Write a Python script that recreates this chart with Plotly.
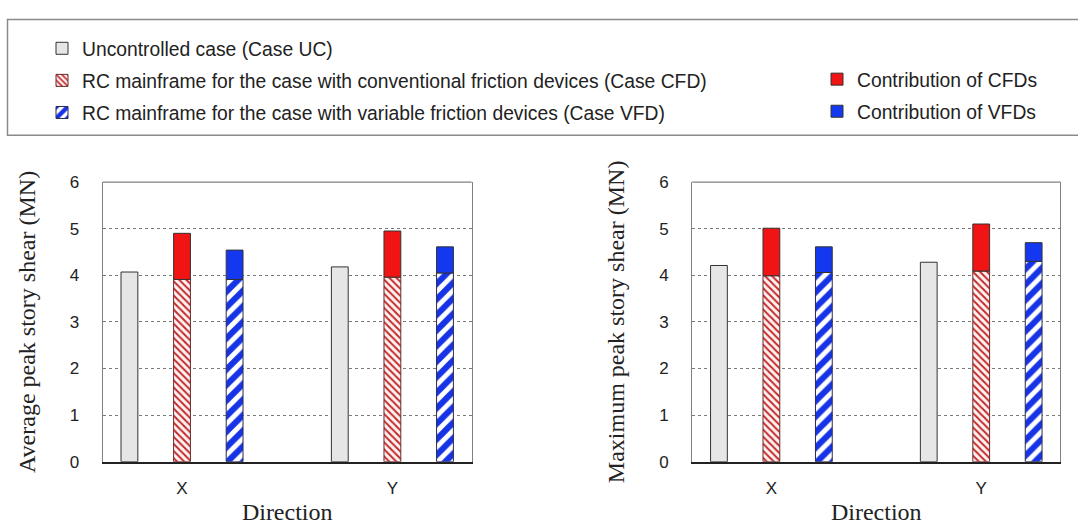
import plotly.graph_objects as go

directions = ["X", "Y"]
# Average peak story shear (MN)
avg_uc = [4.07, 4.18]
avg_cfd_frame = [3.91, 3.96]
avg_cfd_total = [4.90, 4.95]
avg_vfd_frame = [3.91, 4.05]
avg_vfd_total = [4.54, 4.61]
# Maximum peak story shear (MN)
max_uc = [4.21, 4.28]
max_cfd_frame = [3.99, 4.09]
max_cfd_total = [5.01, 5.10]
max_vfd_frame = [4.06, 4.30]
max_vfd_total = [4.61, 4.70]

y_ticks = [0, 1, 2, 3, 4, 5, 6]

names = {
    "uc": "Uncontrolled case (Case UC)",
    "cfd": "RC mainframe for the case with conventional friction devices (Case CFD)",
    "vfd": "RC mainframe for the case with variable friction devices (Case VFD)",
    "cfdc": "Contribution of CFDs",
    "vfdc": "Contribution of VFDs",
}

W = 0.08
OFF_UC = -0.25 - W / 2
OFF_CFD = -W / 2
OFF_VFD = 0.25 - W / 2
LINE = dict(color="#333333", width=1)

fig = go.Figure()


def add_panel(uc, cfd_f, cfd_t, vfd_f, vfd_t, xa, ya, show):
    fig.add_trace(go.Bar(
        x=directions, y=uc, width=W, offset=OFF_UC, name=names["uc"],
        marker=dict(color="#e6e6e6", line=LINE), legendgroup="uc",
        showlegend=show, legend="legend", xaxis=xa, yaxis=ya))
    fig.add_trace(go.Bar(
        x=directions, y=cfd_f, width=W, offset=OFF_CFD, name=names["cfd"],
        marker=dict(color="#fdf2f2", line=dict(color="#6a2a2a", width=1),
                    pattern=dict(shape="\\", fgcolor="#c42a2a", bgcolor="#fdf2f2",
                                 fgopacity=1, size=5, solidity=0.4)),
        legendgroup="cfd", showlegend=show, legend="legend", xaxis=xa, yaxis=ya))
    fig.add_trace(go.Bar(
        x=directions, y=vfd_f, width=W, offset=OFF_VFD, name=names["vfd"],
        marker=dict(color="#ffffff", line=dict(color="#2a2a44", width=1),
                    pattern=dict(shape="/", fgcolor="#1634e6", bgcolor="#ffffff",
                                 fgopacity=1, size=11, solidity=0.55)),
        legendgroup="vfd", showlegend=show, legend="legend", xaxis=xa, yaxis=ya))
    fig.add_trace(go.Bar(
        x=directions, y=[t - f for t, f in zip(cfd_t, cfd_f)], base=cfd_f,
        width=W, offset=OFF_CFD, name=names["cfdc"],
        marker=dict(color="#f01414", line=LINE), legendgroup="cfdc",
        showlegend=show, legend="legend2", xaxis=xa, yaxis=ya))
    fig.add_trace(go.Bar(
        x=directions, y=[t - f for t, f in zip(vfd_t, vfd_f)], base=vfd_f,
        width=W, offset=OFF_VFD, name=names["vfdc"],
        marker=dict(color="#1438f0", line=LINE), legendgroup="vfdc",
        showlegend=show, legend="legend2", xaxis=xa, yaxis=ya))


add_panel(avg_uc, avg_cfd_frame, avg_cfd_total, avg_vfd_frame, avg_vfd_total, "x", "y", True)
add_panel(max_uc, max_cfd_frame, max_cfd_total, max_vfd_frame, max_vfd_total, "x2", "y2", False)

tick_font = dict(family="Liberation Sans, Arial", size=17, color="#222222")
title_font = dict(family="Liberation Serif, Times New Roman", size=24, color="#222222")
legend_font = dict(family="Liberation Sans, Arial", size=19.3, color="#222222")
XR = [-0.377, 1.377]
YDOM = [1 - 469.5 / 531, 1 - 179.5 / 531]


def xaxis(dom, anchor):
    return dict(domain=dom, anchor=anchor, range=XR, type="category",
                showline=True, linecolor="#222222", linewidth=1.5, mirror=False,
                showgrid=False, ticks="", ticklabelstandoff=10, tickfont=tick_font,
                title=dict(text="Direction", font=title_font, standoff=6),
                fixedrange=True)


def yaxis(anchor, title):
    return dict(domain=YDOM, anchor=anchor, range=[0, 6], tickvals=y_ticks,
                showline=True, linecolor="#808080", linewidth=1.2, mirror=True,
                showgrid=True, gridcolor="#7a7a7a", griddash="dot", gridwidth=1,
                zeroline=False, ticks="", ticklabelstandoff=19, tickfont=tick_font,
                title=dict(text=title, font=title_font, standoff=27),
                fixedrange=True)


fig.update_layout(
    width=1078, height=531,
    margin=dict(l=0, r=0, t=0, b=0),
    paper_bgcolor="white", plot_bgcolor="white",
    barmode="overlay",
    xaxis=xaxis([102.7 / 1078, 471.7 / 1078], "y"),
    yaxis=yaxis("x", "Average peak story shear (MN)"),
    xaxis2=xaxis([692.3 / 1078, 1060.3 / 1078], "y2"),
    yaxis2=yaxis("x2", "Maximum peak story shear (MN)"),
    legend=dict(x=42 / 1078, y=1 - 21 / 531, xanchor="left", yanchor="top",
                font=legend_font, bgcolor="rgba(0,0,0,0)", tracegroupgap=4, borderwidth=0),
    legend2=dict(x=817 / 1078, y=1 - 53 / 531, xanchor="left", yanchor="top",
                 font=legend_font, bgcolor="rgba(0,0,0,0)", tracegroupgap=4, borderwidth=0),
    shapes=[
        dict(type="rect", xref="paper", yref="paper",
             x0=7.5 / 1078, x1=1.01, y0=1 - 131 / 531, y1=1 - 11 / 531,
             line=dict(color="#8a8a8a", width=1.5), fillcolor="rgba(0,0,0,0)", layer="below"),
        dict(type="line", xref="x domain", yref="y domain", x0=0, x1=1, y0=1, y1=1,
             line=dict(color="#808080", width=1.2)),
        dict(type="line", xref="x2 domain", yref="y2 domain", x0=0, x1=1, y0=1, y1=1,
             line=dict(color="#808080", width=1.2)),
    ],
)

fig.write_html("out.html", config={"displayModeBar": False},
               post_script="document.body.style.margin='0';")
